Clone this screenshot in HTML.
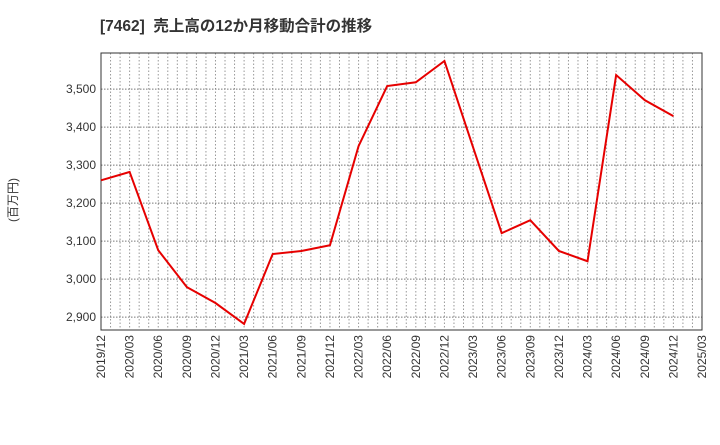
<!DOCTYPE html>
<html><head><meta charset="utf-8"><style>
body{margin:0;background:#fff;font-family:"Liberation Sans","Noto Sans CJK JP",sans-serif}
</style></head><body>
<svg id="c" width="720" height="440" xmlns="http://www.w3.org/2000/svg">
<text x="100" y="31" font-size="15.5" font-weight="bold" fill="#333" xml:space="preserve" style="white-space:pre" font-family="Liberation Sans, Noto Sans CJK JP, sans-serif">[7462]  売上高の12か月移動合計の推移</text>
<text transform="translate(17,200) rotate(-90)" font-size="12" fill="#333" text-anchor="middle" font-family="Liberation Sans, Noto Sans CJK JP, sans-serif">(百万円)</text>
<g id="grid"></g><g id="axes"></g><g id="series"></g>
</svg>
<script>
const categories=["2019/12","2020/03","2020/06","2020/09","2020/12","2021/03","2021/06","2021/09","2021/12","2022/03","2022/06","2022/09","2022/12","2023/03","2023/06","2023/09","2023/12","2024/03","2024/06","2024/09","2024/12","2025/03"];
const values=[3260,3282,3076,2979,2937,2882,3066,3074,3089,3350,3508,3518,3574,3347,3121,3155,3074,3047,3537,3471,3429];
const yTicks=[2900,3000,3100,3200,3300,3400,3500];
const L=101,R=702,T=53,B=330,yMin=2866,yMax=3595;
const ns="http://www.w3.org/2000/svg";
const xq=i=>L+(R-L)*i/(categories.length-1);
const y=v=>B-(v-yMin)/(yMax-yMin)*(B-T);
function mk(t,a,p){const e=document.createElementNS(ns,t);for(const k in a)e.setAttribute(k,a[k]);p.appendChild(e);return e;}
const g=document.getElementById('grid'),ax=document.getElementById('axes'),s=document.getElementById('series');
const nm=(categories.length-1)*3;
for(let m=1;m<nm;m++){const x=L+(R-L)*m/nm;const e=mk('line',{x1:x,x2:x,y1:T,y2:B,stroke:'#999','stroke-dasharray':'1.5,2','stroke-width':1},g);

}
yTicks.forEach(v=>{const e=mk('line',{x1:L,x2:R,y1:y(v),y2:y(v),stroke:'#777','stroke-dasharray':'1.5,1.5','stroke-width':1},g);


const t=mk('text',{x:L-5,y:y(v)+4,'font-size':12,fill:'#333','text-anchor':'end'},ax);t.textContent=v.toLocaleString('en-US');

});
const f=mk('rect',{x:L,y:T,width:R-L,height:B-T,fill:'none',stroke:'#333','stroke-width':1},ax);


categories.forEach((c,i)=>{const x=xq(i);const t=mk('text',{transform:`translate(${x+4},${B+5}) rotate(-90)`,'font-size':12,fill:'#333','text-anchor':'end'},ax);t.textContent=c;

});
const p=mk('polyline',{points:values.map((v,i)=>xq(i)+','+y(v)).join(' '),fill:'none',stroke:'#e60000','stroke-width':2},s);


</script>
</body></html>
